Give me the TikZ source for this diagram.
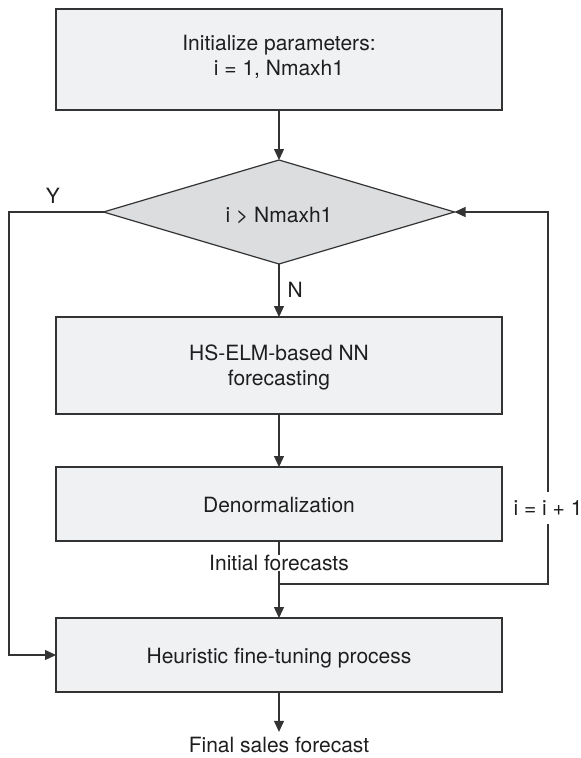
\documentclass[tikz,border=0pt]{standalone}
\usepackage{fontspec}
\setmainfont{TeX Gyre Heros}
\usetikzlibrary{shapes.geometric,arrows.meta}
\definecolor{boxfill}{HTML}{F0F1F3}
\definecolor{decfill}{HTML}{DCDDDF}
\definecolor{linec}{HTML}{333333}
\definecolor{textc}{HTML}{1E1E1E}
\begin{document}
\begin{tikzpicture}[x=1pt,y=-1pt,
  font=\fontsize{21}{25}\selectfont, text=textc,
  stepbox/.style={draw=linec, fill=boxfill, line width=1.2pt,
    minimum width=446pt, inner sep=0pt, outer sep=0pt, align=center},
  oneline/.style={text height=16pt, text depth=0pt},
  decision/.style={diamond, draw=linec, fill=decfill, line width=1.2pt,
    aspect=3.375, minimum width=351pt, minimum height=104pt,
    inner sep=0pt, outer sep=0pt, text height=20pt, text depth=0pt},
  flow/.style={draw=linec, line width=1.2pt,
    -{Triangle[length=11pt,width=10pt]}},
  lbl/.style={inner sep=0pt, outer sep=0pt}]
\useasboundingbox (0,0) rectangle (581,758);

% process steps
\node[stepbox, minimum height=101pt, text height=40.3pt, text depth=9.3pt]
  (init) at (279,59.5) {Initialize parameters:\\ i = 1, Nmaxh1};
\node[decision] (test) at (279,212) {i > Nmaxh1};
\node[stepbox, minimum height=97pt, text height=40.3pt, text depth=1.3pt]
  (hs) at (279,365.5) {HS-ELM-based NN\\ forecasting};
\node[stepbox, oneline, minimum height=74pt] (denorm) at (279,504)
  {Denormalization};
\node[stepbox, oneline, minimum height=74pt] (tune) at (279,655)
  {Heuristic fine-tuning process};
\node[inner xsep=0pt, inner ysep=5.7pt, outer sep=0pt] (final) at (279,745.4)
  {Final sales forecast};

% loop corners
\coordinate (join) at (279,584);
\coordinate (loopr) at (548,584);
\coordinate (loopl) at (9,212);

% main flow
\draw[flow] (init) -- (test);
\draw[flow] (test) -- (hs);
\node[lbl, anchor=west] (nlab) at (287.5,290) {N};
\draw[flow] (hs) -- (denorm);
\draw[flow] (denorm) -- (tune);
\node[lbl, fill=white] (initial) at (279,563) {Initial forecasts};
\draw[flow] (tune) -- (final);

% iteration loop back to the test
\draw[flow] (join) -- (loopr) |- (test.east);
\node[fill=white, inner xsep=1pt, inner ysep=9pt] (incr) at (548,508) {i = i + 1};

% exit branch
\draw[flow] (test.west) -- (loopl) |- (tune.west);
\node[lbl] (ylab) at (53,195.5) {Y};
\end{tikzpicture}
\end{document}
